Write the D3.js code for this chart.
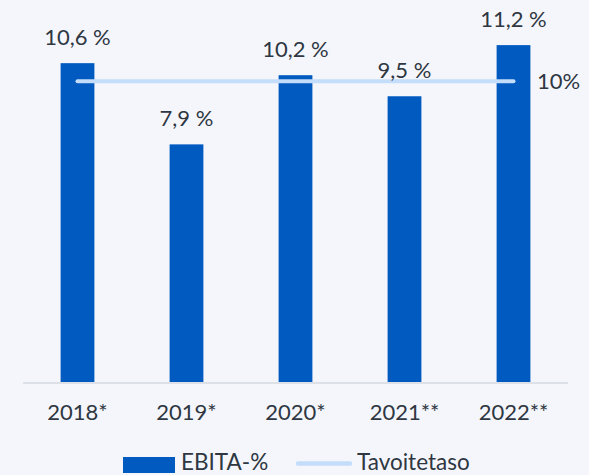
<!DOCTYPE html>
<meta charset="utf-8">
<style>
body { margin: 0; background: #f5f6fb; }
svg { display: block; font-family: Lato, "Open Sans", sans-serif; }
.lbl { fill: #2e3742; }
</style>
<svg width="589" height="475"></svg>
<script src="https://cdn.jsdelivr.net/npm/d3@7"></script>
<script>

var years = ["2018*", "2019*", "2020*", "2021**", "2022**"];
var ebita = [10.6, 7.9, 10.2, 9.5, 11.2];
var target = 10;
var labels = ["10,6 %", "7,9 %", "10,2 %", "9,5 %", "11,2 %"];
var legendNames = ["EBITA-%", "Tavoitetaso"];

var svg = d3.select("svg");

var x = d3.scaleBand()
    .domain(years)
    .range([23, 568])
    .paddingInner(0.69)
    .paddingOuter(0.345);

var y = d3.scaleLinear()
    .domain([0, 12.7])
    .range([382, 0]);

// baseline
svg.append("line")
    .attr("x1", 23).attr("x2", 568)
    .attr("y1", y(0) + 1).attr("y2", y(0) + 1)
    .attr("stroke", "#dde1e7")
    .attr("stroke-width", 2);

svg.selectAll("rect.bar")
    .data(ebita)
  .enter().append("rect")
    .attr("class", "bar")
    .attr("x", function(d, i) { return x(years[i]); })
    .attr("y", function(d) { return y(d); })
    .attr("width", x.bandwidth())
    .attr("height", function(d) { return y(0) - y(d); })
    .attr("fill", "#005ac0");

// target line
svg.append("line")
    .attr("x1", x(years[0]) + x.bandwidth() / 2)
    .attr("x2", x(years[4]) + x.bandwidth() / 2)
    .attr("y1", y(target)).attr("y2", y(target))
    .attr("stroke", "#c3ddfa")
    .attr("stroke-width", 4)
    .attr("stroke-linecap", "round");

svg.append("text")
    .attr("class", "lbl")
    .attr("x", 537)
    .attr("y", y(target) + 8)
    .attr("font-size", 22)
    .text(target + "%");

svg.selectAll("text.val")
    .data(ebita)
  .enter().append("text")
    .attr("class", "lbl val")
    .attr("x", function(d, i) { return x(years[i]) + x.bandwidth() / 2; })
    .attr("y", function(d) { return y(d) - 18.5; })
    .attr("text-anchor", "middle")
    .attr("font-size", 22)
    .text(function(d, i) { return labels[i]; });

svg.selectAll("text.tick")
    .data(years)
  .enter().append("text")
    .attr("class", "lbl tick")
    .attr("x", function(d) { return x(d) + x.bandwidth() / 2; })
    .attr("y", 420)
    .attr("text-anchor", "middle")
    .attr("font-size", 22)
    .text(function(d) { return d; });

// legend (sits at the very bottom edge, as in the original)
var leg = svg.append("g");
leg.append("rect")
    .attr("x", 123).attr("y", 457)
    .attr("width", 52).attr("height", 16)
    .attr("fill", "#005ac0");
leg.append("text")
    .attr("class", "lbl")
    .attr("x", 181).attr("y", 470)
    .attr("font-size", 22.5)
    .text(legendNames[0]);
leg.append("line")
    .attr("x1", 298).attr("x2", 350)
    .attr("y1", 463.5).attr("y2", 463.5)
    .attr("stroke", "#c3ddfa")
    .attr("stroke-width", 4.5)
    .attr("stroke-linecap", "round");
leg.append("text")
    .attr("class", "lbl")
    .attr("x", 357).attr("y", 470)
    .attr("font-size", 22.5)
    .text(legendNames[1]);

</script>
